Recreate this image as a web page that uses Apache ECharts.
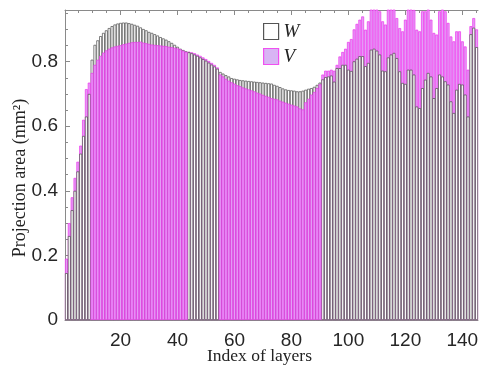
<!DOCTYPE html>
<html><head><meta charset="utf-8">
<script src="https://cdn.jsdelivr.net/npm/echarts@6/dist/echarts.min.js"></script>
<style>html,body{margin:0;padding:0;background:#fff}#c{width:479px;height:365px}</style>
</head><body><div id="c"></div>
<script>
// Projection area (mm^2) per layer
const W = [
  0.145, 0.26, 0.34, 0.40, 0.46, 0.515, 0.57, 0.63, 0.70,
  0.806, 0.852, 0.866, 0.879, 0.889, 0.897, 0.904, 0.910, 0.915, 0.918, 0.920,
  0.921, 0.921, 0.919, 0.917, 0.914, 0.911, 0.906, 0.901, 0.897, 0.892,
  0.889, 0.885, 0.881, 0.876, 0.872, 0.868, 0.863, 0.858, 0.852, 0.846,
  0.840, 0.836, 0.832, 0.829, 0.826, 0.822, 0.818, 0.813, 0.808, 0.803,
  0.797, 0.791, 0.785, 0.778, 0.768, 0.763, 0.758, 0.754, 0.749, 0.747,
  0.745, 0.743, 0.742, 0.741, 0.740, 0.739, 0.738, 0.737, 0.736, 0.735,
  0.734, 0.733, 0.732, 0.728, 0.725, 0.721, 0.717, 0.714, 0.712, 0.711,
  0.710, 0.708, 0.708, 0.710, 0.713, 0.716, 0.718, 0.722, 0.728, 0.735,
  0.745, 0.752, 0.754, 0.757, 0.738, 0.780, 0.780, 0.790, 0.790, 0.775,
  0.771, 0.801, 0.809, 0.817, 0.817, 0.786, 0.796, 0.837, 0.840, 0.834,
  0.822, 0.772, 0.770, 0.813, 0.822, 0.827, 0.811, 0.770, 0.734, 0.731,
  0.775, 0.775, 0.760, 0.661, 0.656, 0.718, 0.744, 0.765, 0.754, 0.687,
  0.718, 0.760, 0.754, 0.739, 0.729, 0.677, 0.641, 0.713, 0.731, 0.729,
  0.698, 0.630, 0.885, 0.905, 0.845
];
const V = [
  0.19, 0.30, 0.38, 0.44, 0.49, 0.54, 0.62, 0.715, 0.735,
  0.765, 0.790, 0.806, 0.818, 0.828, 0.835, 0.840, 0.844, 0.847, 0.849, 0.851,
  0.854, 0.856, 0.858, 0.860, 0.861, 0.861, 0.862, 0.859, 0.857, 0.855,
  0.853, 0.852, 0.851, 0.850, 0.849, 0.848, 0.846, 0.845, 0.843, 0.841,
  0.838, 0.834, 0.830, 0.831, 0.829, 0.826, 0.822, 0.818, 0.813, 0.808,
  0.802, 0.796, 0.790, 0.782, 0.760, 0.754, 0.747, 0.741, 0.736, 0.732,
  0.727, 0.724, 0.720, 0.717, 0.714, 0.711, 0.708, 0.704, 0.701, 0.697,
  0.694, 0.691, 0.687, 0.685, 0.683, 0.679, 0.676, 0.673, 0.670, 0.667,
  0.664, 0.661, 0.655, 0.652, 0.674, 0.685, 0.698, 0.706, 0.718, 0.730,
  0.760, 0.772, 0.772, 0.775, 0.772, 0.790, 0.816, 0.830, 0.840, 0.861,
  0.870, 0.900, 0.917, 0.930, 0.940, 0.899, 0.925, 0.980, 0.980, 0.980,
  0.956, 0.925, 0.915, 0.980, 0.980, 0.980, 0.935, 0.904, 0.894, 0.930,
  0.980, 0.980, 0.960, 0.899, 0.894, 0.956, 0.956, 0.980, 0.930, 0.889,
  0.884, 0.956, 0.980, 0.956, 0.920, 0.878, 0.863, 0.894, 0.894, 0.863,
  0.847, 0.775, 0.910, 0.935, 0.900
];
const layers = W.map((_, i) => String(i + 1));
const xLabelStep = 20, xMinorStep = 5;
const yMax = 0.96, yStep = 0.2, yMinorStep = 0.05;

const axisGray = '#8a8a8a';
const wStyle = {color: '#ffffff', borderColor: '#4a4a4a', borderWidth: 0.7};
const vStyle = {color: '#e49ef6', borderColor: '#ee33ee', borderWidth: 0.7};

// the larger value is drawn behind, the smaller in front
const wBack = W.map((w, i) => w >= V[i] ? w : '-');
const vBack = V.map((v, i) => v > W[i] ? v : '-');
const wFront = W.map((w, i) => w < V[i] ? w : '-');
const vFront = V.map((v, i) => v <= W[i] ? v : '-');

function bar(name, data, style, z) {
  return {type: 'bar', name, data, itemStyle: style, z, barGap: '-100%', barCategoryGap: '0%',
    xAxisIndex: 0, yAxisIndex: 0, animation: false, emphasis: {disabled: true}, clip: true};
}
const every = n => (i, v) => (+v) % n === 0;
const catBase = {type: 'category', data: layers, boundaryGap: true, gridIndex: 0,
  splitLine: {show: false}};
const tickStyle = {color: axisGray, width: 1};

const chart = echarts.init(document.getElementById('c'), null, {renderer: 'canvas'});
chart.setOption({
  backgroundColor: '#ffffff',
  animation: false,
  grid: {left: 65, right: 1, top: 10, bottom: 45, containLabel: false, outerBoundsMode: 'none'},
  legend: {
    data: [
      {name: 'W', itemStyle: {color: '#ffffff', borderColor: '#555555', borderWidth: 1.2}},
      {name: 'V', itemStyle: {color: '#d8b4f4', borderColor: '#f050f0', borderWidth: 1.2}}
    ],
    orient: 'vertical', left: 258, top: 17, itemWidth: 15, itemHeight: 16, itemGap: 6,
    icon: 'rect', selectedMode: false,
    textStyle: {fontFamily: 'Liberation Serif', fontStyle: 'italic', fontSize: 19, color: '#222', lineHeight: 16}
  },
  xAxis: [
    Object.assign({}, catBase, {position: 'bottom',
      axisLine: {show: true, lineStyle: {color: axisGray}},
      axisTick: {show: true, inside: true, length: 5, alignWithLabel: true, interval: every(xLabelStep), lineStyle: tickStyle},
      axisLabel: {show: true, interval: every(xLabelStep), fontSize: 19, color: '#262626', fontFamily: 'Liberation Sans', margin: 11},
      name: 'Index of layers', nameLocation: 'middle', nameGap: 27, nameMoveOverlap: false,
      nameTextStyle: {fontFamily: 'Liberation Serif', fontSize: 17.5, color: '#222', padding: [0, 24, 0, 0]}}),
    Object.assign({}, catBase, {position: 'bottom',
      axisLine: {show: false},
      axisTick: {show: true, inside: true, length: 3, alignWithLabel: true, interval: every(xMinorStep), lineStyle: tickStyle},
      axisLabel: {show: false}}),
    Object.assign({}, catBase, {position: 'top',
      axisLine: {show: true, lineStyle: {color: axisGray}},
      axisTick: {show: true, inside: true, length: 3, alignWithLabel: true, interval: every(xMinorStep), lineStyle: tickStyle},
      axisLabel: {show: false}}),
    Object.assign({}, catBase, {position: 'top',
      axisLine: {show: false},
      axisTick: {show: true, inside: true, length: 5, alignWithLabel: true, interval: every(xLabelStep), lineStyle: tickStyle},
      axisLabel: {show: false}})
  ],
  yAxis: [
    {type: 'value', min: 0, max: yMax, interval: yStep, position: 'left', gridIndex: 0,
      axisLine: {show: true, lineStyle: {color: axisGray}},
      axisTick: {show: true, inside: true, length: 5, lineStyle: tickStyle},
      axisLabel: {show: true, showMaxLabel: false, fontSize: 19, color: '#262626', fontFamily: 'Liberation Sans', margin: 7},
      splitLine: {show: false},
      name: 'Projection area (mm²)', nameLocation: 'middle', nameGap: 36, nameRotate: 90, nameMoveOverlap: false,
      nameTextStyle: {fontFamily: 'Liberation Serif', fontSize: 18, color: '#222', padding: [0, 26, 0, 0]}},
    {type: 'value', min: 0, max: yMax, interval: yMinorStep, position: 'left', gridIndex: 0,
      axisLine: {show: false},
      axisTick: {show: true, inside: true, length: 3, lineStyle: tickStyle},
      axisLabel: {show: false}, splitLine: {show: false}}
  ],
  series: [
    bar('W', wBack, wStyle, 2),
    bar('V', vBack, vStyle, 2),
    bar('W', wFront, wStyle, 3),
    bar('V', vFront, vStyle, 3)
  ]
});
</script></body></html>
